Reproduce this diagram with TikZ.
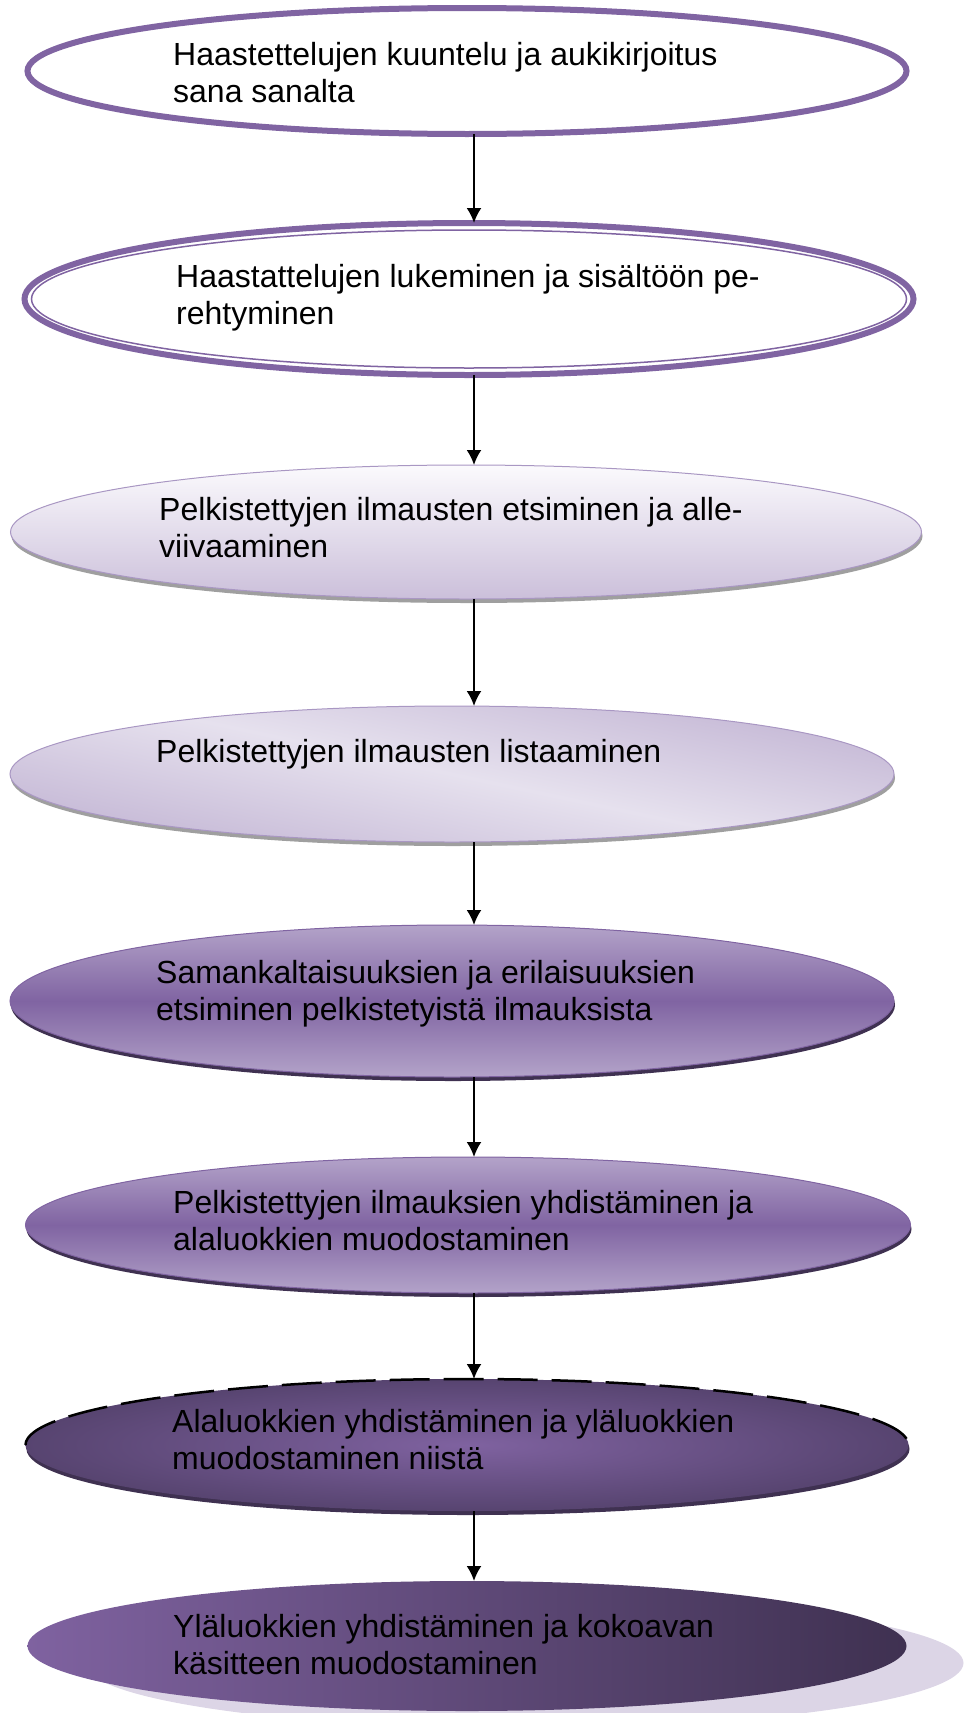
\documentclass[tikz,border=0pt]{standalone}
\usepackage{fontspec}
\setmainfont{Liberation Sans}
\usetikzlibrary{shapes.geometric,shadows,arrows.meta}
\definecolor{lila}{HTML}{8064A2}
\definecolor{lilawhite}{HTML}{FBFAFD}
\definecolor{lilapale}{HTML}{E6E1EE}
\definecolor{lilalight}{HTML}{CBBFDA}
\definecolor{lilasoft}{HTML}{C4B7D5}
\definecolor{lilamid}{HTML}{B3A3C9}
\definecolor{lilaedge}{HTML}{A997C3}
\definecolor{lilaglow}{HTML}{7F62A0}
\definecolor{liladark}{HTML}{574470}
\definecolor{lilanight}{HTML}{3F3151}
\definecolor{lilashadow}{HTML}{DCD5E6}
\begin{document}
\begin{tikzpicture}[x=1pt,y=-1pt,
    oval/.style={ellipse, inner sep=0pt, outer sep=0pt},
    rim/.style={drop shadow={shadow xshift=1pt, shadow yshift=-4pt, fill=#1, opacity=1}},
    txt/.style={anchor=north west, inner sep=0pt, align=left, font=\fontsize{32}{37}\selectfont}]
  \useasboundingbox (0,0) rectangle (966,1713);
  \node[oval, draw=lila, line width=6pt, minimum width=879pt, minimum height=126pt] (e1) at (467,71) {};
  \node[oval, draw=lila, line width=6pt, minimum width=889pt, minimum height=152pt] (e2) at (469,299) {};
  \node[oval, draw=lila, line width=1.5pt, minimum width=875pt, minimum height=138pt] (e2in) at (469,299) {};
  \node[oval, draw=lilaedge, line width=1pt, top color=lilawhite, bottom color=lilalight, rim=gray!75,
    minimum width=911pt, minimum height=134pt] (e3) at (466,532) {};
  \node[oval, draw=lilaedge, line width=1pt, top color=lilasoft, bottom color=lilasoft, middle color=lilapale,
    shading angle=-12, rim=gray!75, minimum width=884pt, minimum height=136pt] (e4) at (452,774) {};
  \node[oval, draw=lila, line width=1pt, top color=lilamid, bottom color=lilamid, middle color=lila,
    rim=lilanight, minimum width=884pt, minimum height=152pt] (e5) at (452,1001) {};
  \node[oval, draw=lila, line width=1pt, top color=lilamid, bottom color=lilamid, middle color=lila,
    rim=lilanight, minimum width=885pt, minimum height=136pt] (e6) at (468,1225) {};
  \node[oval, inner color=lilaglow, outer color=liladark,
    rim=lilanight, minimum width=883pt, minimum height=132pt] (e7) at (467,1445) {};
  \draw[line width=2.5pt, dash pattern=on 40pt off 14pt] (e7.west) arc[start angle=180, end angle=360, x radius=441.5, y radius=66];
  \node[oval, left color=lilaglow, right color=lilanight,
    drop shadow={shadow xshift=57pt, shadow yshift=-17pt, fill=lilashadow, opacity=1},
    minimum width=879pt, minimum height=130pt] (e8) at (467,1646) {};
  \node[txt] (t1) at (173,42) {Haastettelujen kuuntelu ja aukikirjoitus\\sana sanalta};
  \node[txt] (t2) at (176,264) {Haastattelujen lukeminen ja sisältöön pe-\\rehtyminen};
  \node[txt] (t3) at (159,497) {Pelkistettyjen ilmausten etsiminen ja alle-\\viivaaminen};
  \node[txt] (t4) at (156,739) {Pelkistettyjen ilmausten listaaminen};
  \node[txt] (t5) at (156,960) {Samankaltaisuuksien ja erilaisuuksien\\etsiminen pelkistetyistä ilmauksista};
  \node[txt] (t6) at (173,1190) {Pelkistettyjen ilmauksien yhdistäminen ja\\alaluokkien muodostaminen};
  \node[txt] (t7) at (172,1409) {Alaluokkien yhdistäminen ja yläluokkien\\muodostaminen niistä};
  \node[txt] (t8) at (173,1614) {Yläluokkien yhdistäminen ja kokoavan\\käsitteen muodostaminen};
  \coordinate (ax) at (474,0);
  \begin{scope}[-{Latex[length=15pt,width=15pt]}, line width=2pt]
    \draw (e1.south -| ax) to (e2.north -| ax);
    \draw (e2.south -| ax) to (e3.north -| ax);
    \draw (e3.south -| ax) to (e4.north -| ax);
    \draw (e4.south -| ax) to (e5.north -| ax);
    \draw (e5.south -| ax) to (e6.north -| ax);
    \draw (e6.south -| ax) to (e7.north -| ax);
    \draw (e7.south -| ax) to (e8.north -| ax);
  \end{scope}
\end{tikzpicture}
\end{document}
